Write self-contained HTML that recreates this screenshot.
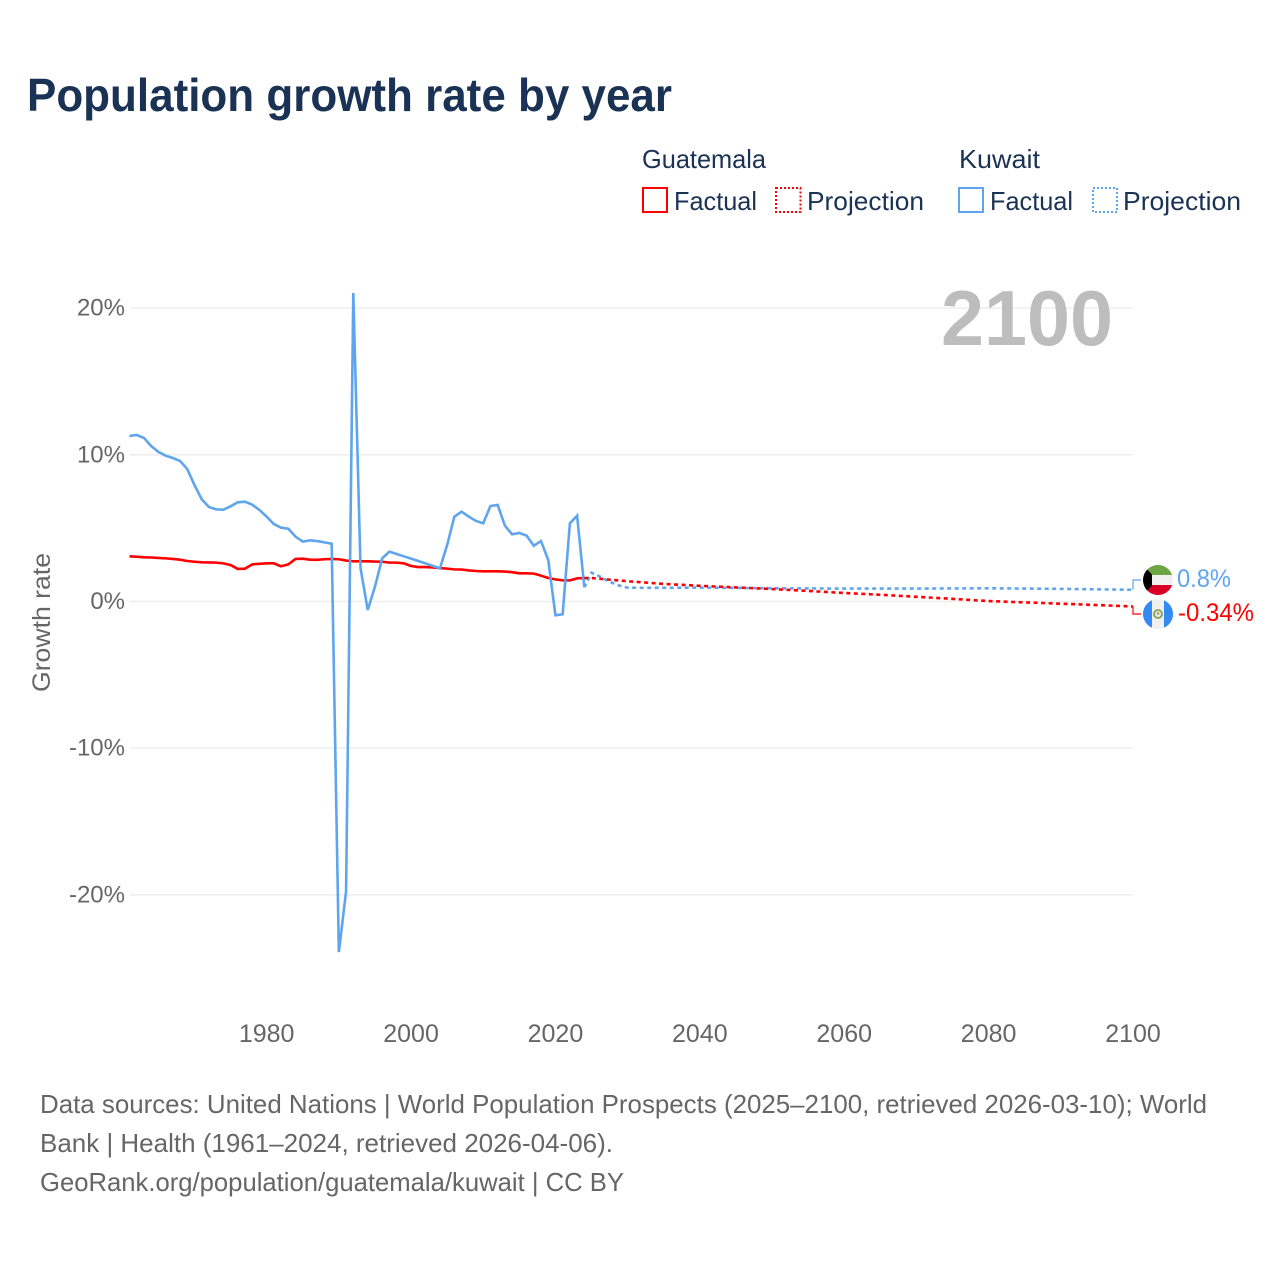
<!DOCTYPE html>
<html lang="en">
<head>
<meta charset="utf-8">
<title>Population growth rate by year</title>
<style>
html,body{margin:0;padding:0;background:#fff;width:1280px;height:1280px;overflow:hidden}
svg{display:block}
text{font-family:"Liberation Sans",sans-serif}
</style>
</head>
<body>
<svg id="chart" xmlns="http://www.w3.org/2000/svg" width="1280" height="1280" viewBox="0 0 1280 1280">
  <text x="27" y="111" font-size="46" font-weight="700" fill="#1a3254" textLength="645" lengthAdjust="spacingAndGlyphs">Population growth rate by year</text>

  <g font-size="26" fill="#1a3254">
    <text x="642" y="168" textLength="124" lengthAdjust="spacingAndGlyphs">Guatemala</text>
    <text x="959" y="168" textLength="81" lengthAdjust="spacingAndGlyphs">Kuwait</text>
    <rect x="643" y="188" width="24" height="24" fill="none" stroke="#ff0000" stroke-width="2"/>
    <text x="674" y="210" textLength="83" lengthAdjust="spacingAndGlyphs">Factual</text>
    <rect x="776" y="188" width="24.500" height="24" fill="none" stroke="#ff0000" stroke-width="2" stroke-dasharray="2 2"/>
    <text x="807" y="210" textLength="117" lengthAdjust="spacingAndGlyphs">Projection</text>
    <rect x="959" y="188" width="24" height="24" fill="none" stroke="#5fa5ee" stroke-width="2"/>
    <text x="990" y="210" textLength="83" lengthAdjust="spacingAndGlyphs">Factual</text>
    <rect x="1093" y="188" width="24" height="24" fill="none" stroke="#5fa5ee" stroke-width="2" stroke-dasharray="2 2"/>
    <text x="1123" y="210" textLength="118" lengthAdjust="spacingAndGlyphs">Projection</text>
  </g>

  <g id="grid"></g>
  <text x="941" y="345" font-size="78" font-weight="700" fill="#bdbdbd" textLength="172" lengthAdjust="spacingAndGlyphs">2100</text>
  <g id="yticks" font-size="24" fill="#666666" text-anchor="end"></g>
  <g id="xticks" font-size="25" fill="#666666" text-anchor="middle"></g>
  <text transform="translate(50,692) rotate(-90)" font-size="25" fill="#666666" textLength="139" lengthAdjust="spacingAndGlyphs">Growth rate</text>
  <g id="series"></g>

  <g>
    <clipPath id="kw-clip"><circle cx="1158" cy="580" r="15"/></clipPath>
    <g clip-path="url(#kw-clip)">
      <rect x="1143" y="565" width="30" height="10" fill="#6da544"/>
      <rect x="1143" y="575" width="30" height="10" fill="#f0f0f0"/>
      <rect x="1143" y="585" width="30" height="10" fill="#d80027"/>
      <polygon points="1143,565 1152,574.500 1152,585.500 1143,595" fill="#000000"/>
    </g>
    <text x="1177" y="587" font-size="25" fill="#5fa5ee" textLength="54" lengthAdjust="spacingAndGlyphs">0.8%</text>
  </g>
  <g>
    <clipPath id="gt-clip"><circle cx="1158" cy="614" r="15"/></clipPath>
    <g clip-path="url(#gt-clip)">
      <rect x="1143" y="599" width="30" height="30" fill="#f0f0f0"/>
      <rect x="1143" y="599" width="9" height="30" fill="#338af3"/>
      <rect x="1164" y="599" width="9" height="30" fill="#338af3"/>
      <circle cx="1158" cy="614" r="4" fill="none" stroke="#8aa860" stroke-width="2"/>
      <circle cx="1158" cy="613.500" r="1.500" fill="#b8a878"/>
    </g>
    <text x="1178" y="621" font-size="25" fill="#ff0000" textLength="76" lengthAdjust="spacingAndGlyphs">-0.34%</text>
  </g>

  <g font-size="26" fill="#666666">
    <text x="40" y="1113" textLength="1167" lengthAdjust="spacingAndGlyphs">Data sources: United Nations | World Population Prospects (2025–2100, retrieved 2026-03-10); World</text>
    <text x="40" y="1152" textLength="573" lengthAdjust="spacingAndGlyphs">Bank | Health (1961–2024, retrieved 2026-04-06).</text>
    <text x="40" y="1191" textLength="584" lengthAdjust="spacingAndGlyphs">GeoRank.org/population/guatemala/kuwait | CC BY</text>
  </g>
</svg>
<script>
const xTickYears = [1980, 2000, 2020, 2040, 2060, 2080, 2100];
const yTickValues = [20, 10, 0, -10, -20];
const yTickLabels = ["20%", "10%", "0%", "-10%", "-20%"];

const factualYears = [1961,1962,1963,1964,1965,1966,1967,1968,1969,1970,1971,1972,1973,1974,1975,1976,1977,1978,1979,1980,1981,1982,1983,1984,1985,1986,1987,1988,1989,1990,1991,1992,1993,1994,1995,1996,1997,1998,1999,2000,2001,2002,2003,2004,2005,2006,2007,2008,2009,2010,2011,2012,2013,2014,2015,2016,2017,2018,2019,2020,2021,2022,2023,2024];
const guatemalaFactual = [3.08,3.05,3.01,3.0,2.97,2.94,2.9,2.85,2.76,2.71,2.67,2.66,2.65,2.6,2.49,2.22,2.24,2.53,2.57,2.6,2.6,2.4,2.53,2.9,2.92,2.85,2.84,2.88,2.9,2.88,2.79,2.74,2.74,2.74,2.72,2.71,2.65,2.65,2.6,2.42,2.35,2.35,2.32,2.28,2.24,2.19,2.18,2.12,2.08,2.06,2.06,2.06,2.04,2.0,1.92,1.92,1.9,1.76,1.6,1.51,1.44,1.44,1.58,1.6];
const kuwaitFactual = [11.28,11.35,11.15,10.6,10.2,9.94,9.78,9.58,9.03,7.94,6.97,6.44,6.28,6.26,6.49,6.76,6.8,6.6,6.24,5.78,5.28,5.03,4.96,4.42,4.08,4.17,4.12,4.03,3.94,-23.9,-19.75,21.03,2.28,-0.58,1.01,2.94,3.4,3.24,3.08,2.92,2.76,2.6,2.43,2.26,3.85,5.78,6.12,5.78,5.49,5.33,6.51,6.58,5.17,4.58,4.67,4.49,3.8,4.12,2.83,-0.94,-0.87,5.33,5.85,0.97];

const guatemalaProjYears = [2024,2025,2030,2035,2040,2045,2050,2055,2060,2065,2070,2075,2080,2085,2090,2095,2100];
const guatemalaProjection = [1.6,1.6,1.38,1.2,1.07,0.96,0.85,0.72,0.58,0.46,0.32,0.18,0.03,-0.06,-0.15,-0.24,-0.34];
const kuwaitProjYears = [2024,2025,2026,2027,2028,2029,2030,2035,2040,2045,2050,2060,2070,2080,2090,2100];
const kuwaitProjection = [0.97,1.96,1.74,1.47,1.24,1.06,0.94,0.93,0.95,0.93,0.9,0.88,0.88,0.9,0.86,0.8];

const RED = "#ff0000";
const BLUE = "#5fa5ee";
const NS = "http://www.w3.org/2000/svg";

function xScale(year) { return 129.500 + (year - 1961) * (1133 - 129.500) / (2100 - 1961); }
function yScale(value) { return 601.5 - value * 14.67; }

function make(tag, attrs, parent, text) {
  const el = document.createElementNS(NS, tag);
  for (const k in attrs) el.setAttribute(k, attrs[k]);
  if (text !== undefined) el.textContent = text;
  parent.appendChild(el);
  return el;
}
function pointsOf(years, values) {
  return years.map(function (yr, i) { return xScale(yr).toFixed(2) + "," + yScale(values[i]).toFixed(2); }).join(" ");
}

const gridGroup = document.getElementById("grid");
const yTickGroup = document.getElementById("yticks");
const xTickGroup = document.getElementById("xticks");
const seriesGroup = document.getElementById("series");

yTickValues.forEach(function (v, i) {
  const line = make("line", { x1: 130, x2: 1133.5, y1: yScale(v), y2: yScale(v), stroke: "#eeeeee", "stroke-width": 1.5 }, gridGroup);
  
  
  const label = make("text", { x: 125, y: yScale(v) + 7.5 }, yTickGroup, yTickLabels[i]);
  
  
});

xTickYears.forEach(function (yr) {
  const label = make("text", { x: xScale(yr), y: 1042 }, xTickGroup, String(yr));
  
  
});

const guatemalaLine = make("polyline", { points: pointsOf(factualYears, guatemalaFactual), fill: "none", stroke: RED, "stroke-width": 2.6, "stroke-linejoin": "round" }, seriesGroup);



const kuwaitLine = make("polyline", { points: pointsOf(factualYears, kuwaitFactual), fill: "none", stroke: BLUE, "stroke-width": 2.6, "stroke-linejoin": "miter" }, seriesGroup);



const kuwaitProjLine = make("polyline", { points: pointsOf(kuwaitProjYears, kuwaitProjection), fill: "none", stroke: BLUE, "stroke-width": 2.6, "stroke-dasharray": "4 3.500" }, seriesGroup);



const guatemalaProjLine = make("polyline", { points: pointsOf(guatemalaProjYears, guatemalaProjection), fill: "none", stroke: RED, "stroke-width": 2.6, "stroke-dasharray": "4 3.500" }, seriesGroup);



const kwEnd = yScale(kuwaitProjection[kuwaitProjection.length - 1]);
const gtEnd = yScale(guatemalaProjection[guatemalaProjection.length - 1]);
const kwConnector = make("polyline", { points: "1133," + kwEnd + " 1133,580 1141,580", fill: "none", stroke: BLUE, "stroke-width": 1.2 }, seriesGroup);


const gtConnector = make("polyline", { points: "1133," + gtEnd + " 1133,614 1141,614", fill: "none", stroke: RED, "stroke-width": 1.2 }, seriesGroup);


</script>
</body>
</html>
